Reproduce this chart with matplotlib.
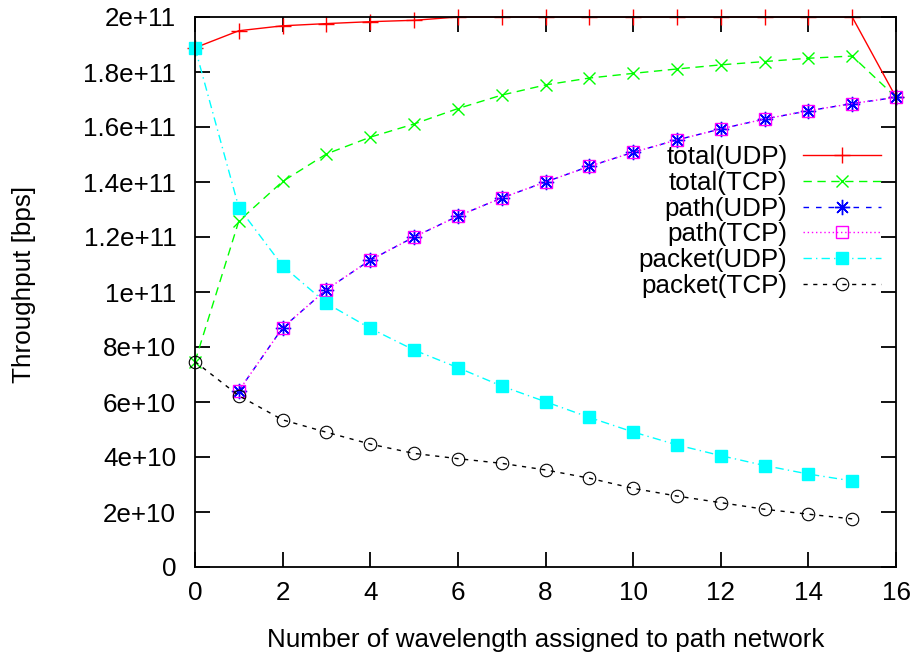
import matplotlib
matplotlib.use('Agg')
import matplotlib.pyplot as plt
from matplotlib.ticker import FuncFormatter

plt.rcParams['font.family'] = ['Liberation Sans', 'DejaVu Sans']

# wavelengths assigned to the path network
x_total = list(range(0, 17))
x_path = list(range(1, 17))
x_packet = list(range(0, 16))

# throughput in bps (units of 1e9)
total_udp = [188.8, 195.0, 196.8, 197.6, 198.3, 198.8, 200, 200, 200, 200,
             200, 200, 200, 200, 200, 200, 170.8]
total_tcp = [74.7, 125.8, 140.2, 150.2, 156.3, 161.1, 166.7, 171.6, 175.3,
             177.8, 179.5, 181.1, 182.6, 183.8, 185.0, 185.8, 170.8]
path_udp = [64.1, 87.0, 100.9, 111.6, 120.0, 127.6, 134.2, 140.0, 145.7,
            150.8, 155.3, 159.3, 162.9, 165.9, 168.5, 170.8]
path_tcp = path_udp
packet_udp = [188.8, 130.7, 109.5, 95.9, 86.8, 78.9, 72.5, 65.8, 60.1, 54.4,
              49.1, 44.4, 40.5, 36.9, 33.8, 31.3]
packet_tcp = [74.7, 62.3, 53.5, 49.0, 44.7, 41.3, 39.4, 37.7, 35.3, 32.3,
              28.6, 25.8, 23.4, 21.0, 19.2, 17.5]

def scale(v):
    return [a * 1e9 for a in v]

fs = 18.7
W, H = 918, 652

fig = plt.figure(figsize=(W / 100, H / 100), dpi=100)
ax = fig.add_axes([195/W, 1 - 567/H, (896 - 195)/W, (567 - 17)/H])

ms = 9
ax.plot(x_total, scale(total_udp), color='#ff0000', lw=1, ls='-',
        marker='+', ms=ms + 2, mew=1, label='total(UDP)', clip_on=False)
ax.plot(x_total, scale(total_tcp), color='#00ff00', lw=1, ls=(0, (6, 4)),
        marker='x', ms=ms, mew=1, label='total(TCP)', clip_on=False)
ax.plot(x_path, scale(path_udp), color='#0000ff', lw=1, ls=(0, (4, 5)),
        marker=(8, 2, 0), ms=ms + 2, mew=1, label='path(UDP)', clip_on=False)
ax.plot(x_path, scale(path_tcp), color='#ff00ff', lw=1, ls=(0, (1, 2)),
        marker='s', ms=ms, mew=1, mfc='none', label='path(TCP)', clip_on=False)
ax.plot(x_packet, scale(packet_udp), color='#00ffff', lw=1,
        ls=(0, (6, 3, 1, 3)), marker='s', ms=ms, mew=1,
        label='packet(UDP)', clip_on=False)
ax.plot(x_packet, scale(packet_tcp), color='#000000', lw=1, ls=(0, (3, 4)),
        marker='o', ms=ms, mew=0.8, mfc='none', label='packet(TCP)',
        clip_on=False)

ax.set_xlim(0, 16)
ax.set_ylim(0, 2e11)
ax.set_xticks(range(0, 17, 2))
ax.set_yticks([i * 2e10 for i in range(11)])
ax.yaxis.set_major_formatter(FuncFormatter(lambda v, p: '%g' % v))

ax.tick_params(direction='in', length=11, width=1.3, top=True, right=True,
               labelsize=fs)
ax.tick_params(axis='x', pad=10)
ax.tick_params(axis='y', pad=13.5)
for s in ax.spines.values():
    s.set_linewidth(1.3)

ax.set_xlabel('Number of wavelength assigned to path network', fontsize=fs)
ax.set_ylabel('Throughput [bps]', fontsize=fs)
ax.xaxis.set_label_coords(545.5 / W, 1 - 628 / H, transform=fig.transFigure)
ax.yaxis.set_label_coords(36 / W, 1 - 284 / H, transform=fig.transFigure)

leg = ax.legend(loc='upper right', markerfirst=False, frameon=False,
                fontsize=fs, handlelength=3.0, handletextpad=0.6,
                labelspacing=0.07, borderpad=0, borderaxespad=0,
                bbox_to_anchor=(881/W, 1 - 145/H),
                bbox_transform=fig.transFigure)

fig.savefig('out.png', dpi=100)
